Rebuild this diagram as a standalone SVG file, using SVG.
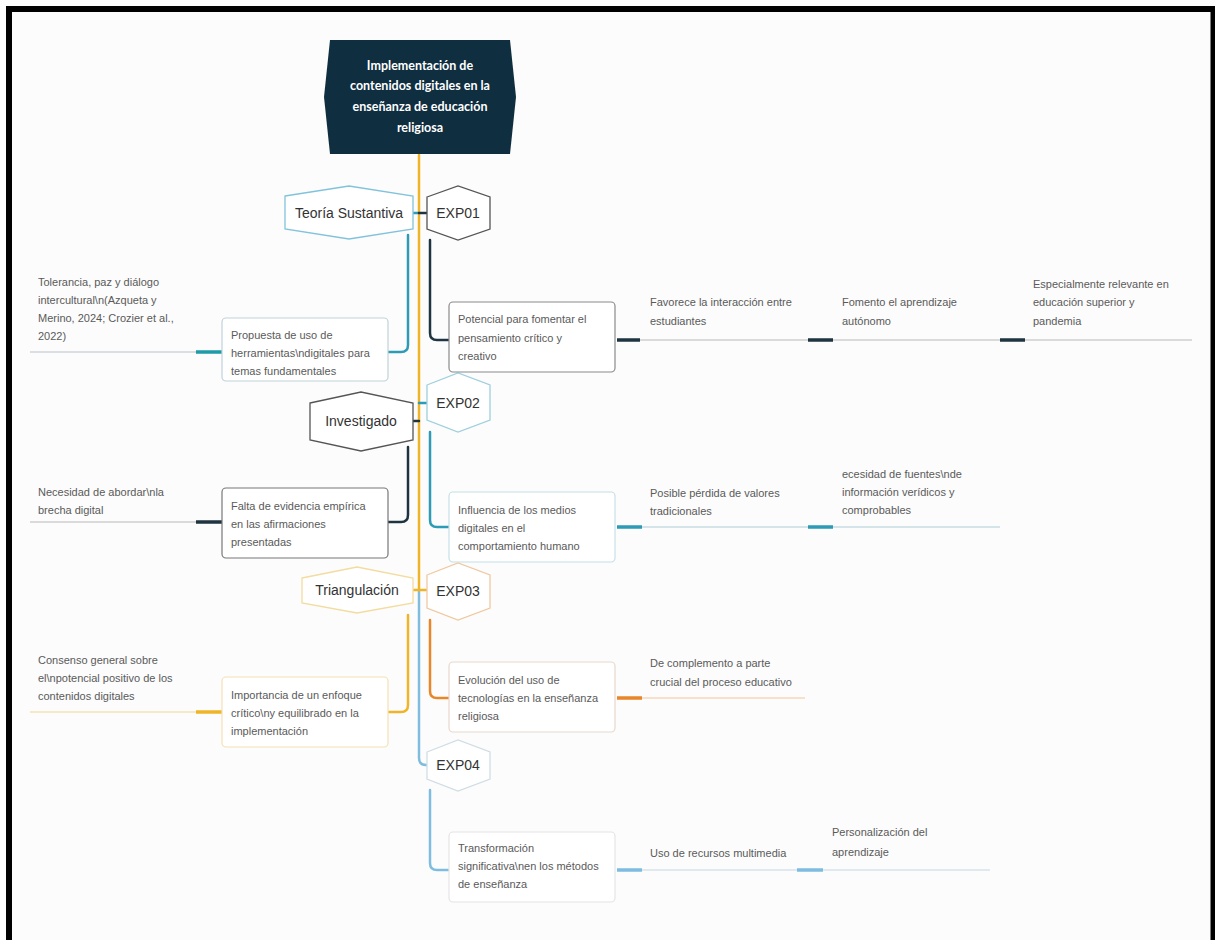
<svg xmlns="http://www.w3.org/2000/svg" width="1215" height="940" viewBox="0 0 1215 940">
<style>
.t{font-family:"Liberation Sans",Arial,sans-serif;font-size:11px;fill:#5a5a5a}
.h{font-family:"Liberation Sans",Arial,sans-serif;font-size:14px;fill:#333;text-anchor:middle}
.r{font-family:"Lato","Liberation Sans",sans-serif;font-size:12.5px;font-weight:bold;fill:#fff;text-anchor:middle}
.box{fill:#fff;stroke-width:1.2}
.hex{fill:#fff;stroke-width:1.3}
.ln{fill:none;stroke-width:2.5;stroke-linecap:round}
.thin{fill:none;stroke-width:1.3}
.thick{fill:none;stroke-width:3.5}
</style>
<rect x="0" y="0" width="1215" height="940" fill="#fcfcfc"/>
<path d="M9,944 V9 H1213.5 V944" fill="none" stroke="#000" stroke-width="6"/>

<g id="connectors">
  <!-- trunk -->
  <path class="ln" d="M419,155 V590" stroke="#f0b429"/>
  <path class="ln" d="M419,590 V758 Q419,765 426,765 H428" stroke="#7fbde0"/>
  <path class="ln" d="M419,590 H427" stroke="#f0b429"/>
  <path class="ln" d="M413,590 H419" stroke="#f0b429"/>
  <path class="ln" d="M405,213 H419" stroke="#2d9bb5"/>
  <path class="ln" d="M419,213 H427" stroke="#1e3440"/>
  <path class="ln" d="M413,421 H419" stroke="#1e3440"/>
  <path class="ln" d="M419,403 H427" stroke="#2d9bb5"/>
  <!-- branches -->
  <path class="ln" d="M408,235 V345 Q408,352 401,352 H388" stroke="#2d9bb5"/>
  <path class="ln" d="M430,240 V333 Q430,340 437,340 H449" stroke="#1e3440"/>
  <path class="ln" d="M408,447 V515 Q408,522 401,522 H388" stroke="#1e3440"/>
  <path class="ln" d="M430,432 V520 Q430,527 437,527 H449" stroke="#2d9bb5"/>
  <path class="ln" d="M408,615 V705 Q408,712 401,712 H388" stroke="#f0b429"/>
  <path class="ln" d="M430,620 V691 Q430,698 437,698 H449" stroke="#e8862a"/>
  <path class="ln" d="M430,790 V863 Q430,870 437,870 H449" stroke="#7fbde0"/>
  <!-- leaf lines left -->
  <path class="thick" d="M196,352 H222" stroke="#1f9aa8"/>
  <path class="thin" d="M30,352 H196" stroke="#d0d6d8"/>
  <path class="thick" d="M196,522 H222" stroke="#1e3440"/>
  <path class="thin" d="M30,522 H196" stroke="#cfcfcf"/>
  <path class="thick" d="M196,712 H222" stroke="#f0b429"/>
  <path class="thin" d="M30,712 H196" stroke="#f5e3b5"/>
  <!-- leaf lines right -->
  <path class="thick" d="M617,340 H640" stroke="#1e3440"/>
  <path class="thin" d="M640,340 H808" stroke="#cfcfcf"/>
  <path class="thick" d="M808,340 H833" stroke="#1e3440"/>
  <path class="thin" d="M833,340 H1000" stroke="#cfcfcf"/>
  <path class="thick" d="M1000,340 H1025" stroke="#1e3440"/>
  <path class="thin" d="M1025,340 H1192" stroke="#cfcfcf"/>
  <path class="thick" d="M617,527 H642" stroke="#2d9bb5"/>
  <path class="thin" d="M642,527 H808" stroke="#c8dde2"/>
  <path class="thick" d="M808,527 H833" stroke="#2d9bb5"/>
  <path class="thin" d="M833,527 H1000" stroke="#c8dde2"/>
  <path class="thick" d="M617,698 H642" stroke="#e8862a"/>
  <path class="thin" d="M642,698 H805" stroke="#f7d8bb"/>
  <path class="thick" d="M617,870 H642" stroke="#7fbde0"/>
  <path class="thin" d="M642,870 H797" stroke="#d5e3ec"/>
  <path class="thick" d="M797,870 H823" stroke="#7fbde0"/>
  <path class="thin" d="M823,870 H990" stroke="#d5e3ec"/>
</g>

<g id="root">
  <path d="M330,40 H510 L516,97 L510,154 H330 L324,97 Z" fill="#0f2e3f"/>
  <text class="r" x="420" y="70">Implementación de</text>
  <text class="r" x="420" y="90">contenidos digitales en la</text>
  <text class="r" x="420" y="111">enseñanza de educación</text>
  <text class="r" x="420" y="132">religiosa</text>
</g>

<g id="teoria">
  <path class="hex" d="M285,196 L349,186 L413,196 V229 L349,239 L285,229 Z" stroke="#82c3dc"/>
  <text class="h" x="349" y="218">Teoría Sustantiva</text>
</g>
<g id="exp01">
  <path class="hex" d="M427,197 L458,186 L490,197 V229 L458,240 L427,229 Z" stroke="#555"/>
  <text class="h" x="458" y="218">EXP01</text>
</g>
<g id="investigado">
  <path class="hex" d="M310,403 L361,392 L413,403 V440 L361,451 L310,440 Z" stroke="#555"/>
  <text class="h" x="361" y="426">Investigado</text>
</g>
<g id="exp02">
  <path class="hex" d="M427,385 L458,373 L490,385 V420 L458,432 L427,420 Z" stroke="#9fd0de"/>
  <text class="h" x="458" y="408">EXP02</text>
</g>
<g id="triangulacion">
  <path class="hex" d="M302,578 L357,567 L413,578 V603 L357,613 L302,603 Z" stroke="#f3dca0"/>
  <text class="h" x="357" y="595">Triangulación</text>
</g>
<g id="exp03">
  <path class="hex" d="M427,575 L458,563 L490,575 V608 L458,620 L427,608 Z" stroke="#f0c9a0"/>
  <text class="h" x="458" y="596">EXP03</text>
</g>
<g id="exp04">
  <path class="hex" d="M427,752 L458,740 L490,752 V779 L458,791 L427,779 Z" stroke="#d0dde5"/>
  <text class="h" x="458" y="770">EXP04</text>
</g>

<g id="propuesta">
  <rect class="box" x="222" y="318" width="166" height="63" rx="4" stroke="#bfd3da"/>
  <text class="t" x="231" y="339">Propuesta de uso de</text>
  <text class="t" x="231" y="357">herramientas\ndigitales para</text>
  <text class="t" x="231" y="375">temas fundamentales</text>
</g>
<g id="potencial">
  <rect class="box" x="449" y="302" width="166" height="70" rx="4" stroke="#8a8a8a"/>
  <text class="t" x="458" y="323">Potencial para fomentar el</text>
  <text class="t" x="458" y="342">pensamiento crítico y</text>
  <text class="t" x="458" y="360">creativo</text>
</g>
<g id="falta">
  <rect class="box" x="222" y="488" width="166" height="70" rx="4" stroke="#777"/>
  <text class="t" x="231" y="510">Falta de evidencia empírica</text>
  <text class="t" x="231" y="528">en las afirmaciones</text>
  <text class="t" x="231" y="546">presentadas</text>
</g>
<g id="influencia">
  <rect class="box" x="449" y="492" width="166" height="70" rx="4" stroke="#c5dfe6"/>
  <text class="t" x="458" y="514">Influencia de los medios</text>
  <text class="t" x="458" y="532">digitales en el</text>
  <text class="t" x="458" y="550">comportamiento humano</text>
</g>
<g id="importancia">
  <rect class="box" x="222" y="677" width="166" height="70" rx="4" stroke="#f3e2b5"/>
  <text class="t" x="231" y="699">Importancia de un enfoque</text>
  <text class="t" x="231" y="717">crítico\ny equilibrado en la</text>
  <text class="t" x="231" y="735">implementación</text>
</g>
<g id="evolucion">
  <rect class="box" x="449" y="662" width="166" height="70" rx="4" stroke="#e8d8cc"/>
  <text class="t" x="458" y="684">Evolución del uso de</text>
  <text class="t" x="458" y="702">tecnologías en la enseñanza</text>
  <text class="t" x="458" y="720">religiosa</text>
</g>
<g id="transformacion">
  <rect class="box" x="449" y="832" width="166" height="70" rx="4" stroke="#e4e4e4"/>
  <text class="t" x="458" y="852">Transformación</text>
  <text class="t" x="458" y="870">significativa\nen los métodos</text>
  <text class="t" x="458" y="888">de enseñanza</text>
</g>

<g id="tolerancia">
  <text class="t" x="38" y="286">Tolerancia, paz y diálogo</text>
  <text class="t" x="38" y="304">intercultural\n(Azqueta y</text>
  <text class="t" x="38" y="322">Merino, 2024; Crozier et al.,</text>
  <text class="t" x="38" y="340">2022)</text>
</g>
<g id="necesidad">
  <text class="t" x="38" y="496">Necesidad de abordar\nla</text>
  <text class="t" x="38" y="514">brecha digital</text>
</g>
<g id="consenso">
  <text class="t" x="38" y="664">Consenso general sobre</text>
  <text class="t" x="38" y="682">el\npotencial positivo de los</text>
  <text class="t" x="38" y="700">contenidos digitales</text>
</g>
<g id="favorece">
  <text class="t" x="650" y="306">Favorece la interacción entre</text>
  <text class="t" x="650" y="325">estudiantes</text>
</g>
<g id="fomento">
  <text class="t" x="842" y="306">Fomento el aprendizaje</text>
  <text class="t" x="842" y="325">autónomo</text>
</g>
<g id="especialmente">
  <text class="t" x="1033" y="288">Especialmente relevante en</text>
  <text class="t" x="1033" y="306">educación superior y</text>
  <text class="t" x="1033" y="325">pandemia</text>
</g>
<g id="posible">
  <text class="t" x="650" y="497">Posible pérdida de valores</text>
  <text class="t" x="650" y="515">tradicionales</text>
</g>
<g id="fuentes">
  <text class="t" x="842" y="478">ecesidad de fuentes\nde</text>
  <text class="t" x="842" y="496">información verídicos y</text>
  <text class="t" x="842" y="514">comprobables</text>
</g>
<g id="complemento">
  <text class="t" x="650" y="667">De complemento a parte</text>
  <text class="t" x="650" y="686">crucial del proceso educativo</text>
</g>
<g id="multimedia">
  <text class="t" x="650" y="857">Uso de recursos multimedia</text>
</g>
<g id="personalizacion">
  <text class="t" x="832" y="836">Personalización del</text>
  <text class="t" x="832" y="856">aprendizaje</text>
</g>
</svg>
